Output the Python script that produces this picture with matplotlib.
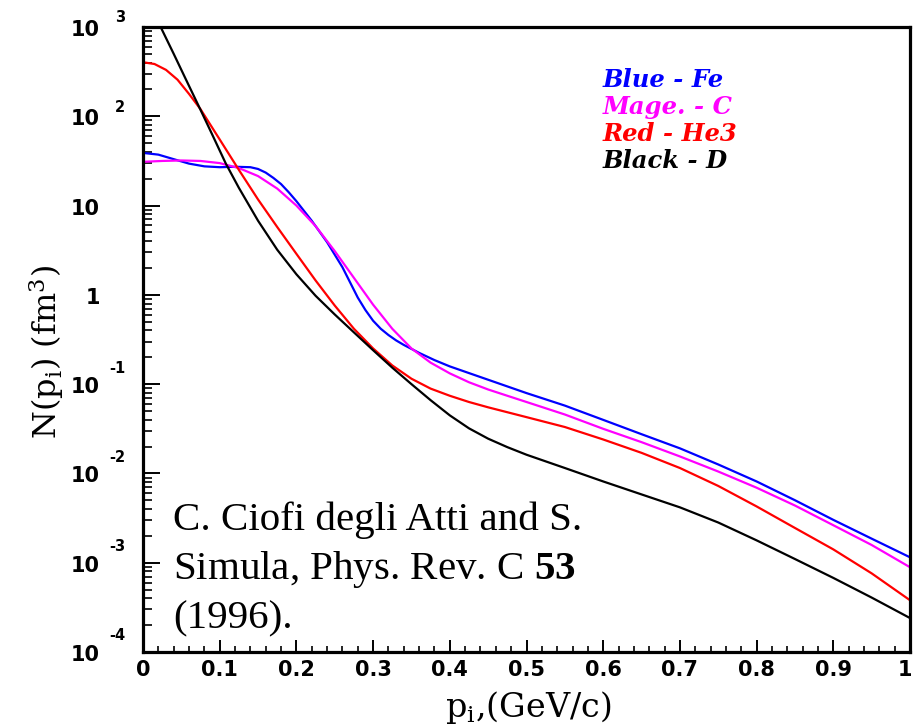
import matplotlib
matplotlib.use("Agg")
import matplotlib.pyplot as plt
from matplotlib.ticker import FixedLocator, NullFormatter, LogLocator
from matplotlib.transforms import offset_copy, ScaledTranslation

plt.rcParams['mathtext.fontset'] = 'custom'
plt.rcParams['mathtext.rm'] = 'Liberation Serif'
plt.rcParams['mathtext.bf'] = 'Liberation Serif:bold'

# momentum distributions, p in GeV/c, N(p) in fm^3
p_fe = [0, 0.02, 0.04, 0.06, 0.08, 0.1, 0.12, 0.14, 0.15, 0.16, 0.17, 0.18, 0.19,
        0.2, 0.22, 0.24, 0.26, 0.28, 0.29, 0.3, 0.31, 0.32, 0.33, 0.34, 0.36, 0.38,
        0.4, 0.45, 0.5, 0.55, 0.6, 0.65, 0.7, 0.75, 0.8, 0.85, 0.9, 0.95, 1.0]
n_fe = [38.9, 37.2, 33.1, 29.5, 27.5, 26.9, 27.2, 26.9, 25.7, 23.4, 20.4, 17.4, 14.1,
        11.2, 6.76, 3.89, 2.04, 0.933, 0.676, 0.513, 0.417, 0.355, 0.309, 0.275,
        0.224, 0.186, 0.158, 0.112, 0.0794, 0.0575, 0.0398, 0.0275, 0.0191, 0.0126,
        0.00813, 0.00501, 0.00302, 0.00186, 0.00115]

p_c = [0, 0.025, 0.05, 0.075, 0.1, 0.125, 0.15, 0.175, 0.2, 0.225, 0.25, 0.275, 0.3,
       0.325, 0.35, 0.375, 0.4, 0.425, 0.45, 0.475, 0.5, 0.55, 0.6, 0.65, 0.7, 0.75,
       0.8, 0.85, 0.9, 0.95, 1.0]
n_c = [30.9, 31.6, 32.0, 31.6, 29.9, 26.3, 21.4, 15.5, 10.0, 5.89, 3.09, 1.55, 0.776,
       0.417, 0.251, 0.174, 0.132, 0.105, 0.0871, 0.0741, 0.0631, 0.0457, 0.0316,
       0.0224, 0.0155, 0.0105, 0.00692, 0.00437, 0.00263, 0.00158, 0.00089]

p_he3 = [0, 0.015, 0.03, 0.045, 0.06, 0.075, 0.1, 0.125, 0.15, 0.175, 0.2, 0.225,
         0.25, 0.275, 0.3, 0.325, 0.35, 0.375, 0.4, 0.425, 0.45, 0.5, 0.55, 0.6,
         0.65, 0.7, 0.75, 0.8, 0.85, 0.9, 0.95, 1.0]
n_he3 = [403, 385, 331, 257, 178, 120, 55.0, 25.1, 11.7, 5.75, 2.88, 1.45, 0.759,
         0.417, 0.251, 0.162, 0.115, 0.0891, 0.0741, 0.0631, 0.0550, 0.0427, 0.0331,
         0.0240, 0.0170, 0.0115, 0.00724, 0.00427, 0.00245, 0.00141, 0.00076, 0.00038]

p_d = [0, 0.023, 0.04, 0.055, 0.074, 0.09, 0.108, 0.125, 0.15, 0.175, 0.2, 0.225,
       0.25, 0.275, 0.3, 0.325, 0.35, 0.375, 0.4, 0.425, 0.45, 0.475, 0.5, 0.55, 0.6,
       0.65, 0.7, 0.75, 0.8, 0.85, 0.9, 0.95, 1.0]
n_d = [2512, 1000, 501, 269, 123, 63.1, 29.5, 15.8, 6.76, 3.20, 1.70, 0.977, 0.603,
       0.380, 0.240, 0.153, 0.100, 0.0661, 0.0447, 0.0320, 0.0245, 0.0197, 0.0162,
       0.0115, 0.00813, 0.00582, 0.00417, 0.00282, 0.00178, 0.00110, 0.000676,
       0.000407, 0.000240]

x_ticks = [0, 0.1, 0.2, 0.3, 0.4, 0.5, 0.6, 0.7, 0.8, 0.9, 1.0]
x_tick_labels = ["0", "0.1", "0.2", "0.3", "0.4", "0.5", "0.6", "0.7", "0.8", "0.9", "1"]
y_decades = [1e3, 1e2, 1e1, 1e0, 1e-1, 1e-2, 1e-3, 1e-4]
y_mantissa = ["10", "10", "10", "1", "10", "10", "10", "10"]
y_exponent = ["3", "2", "", "", "-1", "-2", "-3", "-4"]

legend_text = ["Blue - Fe", "Mage. - C", "Red - He3", "Black - D"]
legend_colors = ["#0000ff", "#ff00ff", "#ff0000", "#000000"]

W, H = 913, 727
fig = plt.figure(figsize=(W / 100, H / 100), dpi=100)
ax = fig.add_axes([143 / W, 1 - 652 / H, (910 - 143) / W, (652 - 27) / H])

ax.plot(p_fe, n_fe, color="#0000ff", lw=1.6)
ax.plot(p_c, n_c, color="#ff00ff", lw=1.6)
ax.plot(p_he3, n_he3, color="#ff0000", lw=1.6)
ax.plot(p_d, n_d, color="#000000", lw=1.6)

ax.set_yscale("log")
ax.set_xlim(0, 1)
ax.set_ylim(1e-4, 1e3)

for s in ax.spines.values():
    s.set_linewidth(2.3)

ax.xaxis.set_major_locator(FixedLocator(x_ticks))
ax.xaxis.set_minor_locator(FixedLocator([i * 0.02 for i in range(51)]))
ax.set_xticklabels(x_tick_labels, fontfamily="DejaVu Sans", fontweight="bold", fontsize=15)
ax.yaxis.set_major_locator(FixedLocator(y_decades))
ax.yaxis.set_minor_locator(LogLocator(base=10, subs=range(2, 10), numticks=20))
ax.yaxis.set_major_formatter(NullFormatter())
ax.yaxis.set_minor_formatter(NullFormatter())

ax.tick_params(axis="x", which="major", direction="in", length=8.5, width=1.4, pad=6,
               top=False)
ax.tick_params(axis="x", which="minor", direction="in", length=4.3, width=1.2, top=False)
ax.tick_params(axis="y", which="major", direction="in", length=12, width=1.4, right=False)
ax.tick_params(axis="y", which="minor", direction="in", length=6.5, width=1.2, right=False)

# keep the last x label ("1") inside the canvas
last = ax.get_xticklabels()[-1]
last.set_transform(last.get_transform() + ScaledTranslation(-5 / 100, 0, fig.dpi_scale_trans))

# ROOT style y labels: "10" with a raised exponent
ytr = ax.get_yaxis_transform()
for val, man, ex in zip(y_decades, y_mantissa, y_exponent):
    t = offset_copy(ytr, fig=fig, x=-43, y=-3, units="dots")
    ax.text(0, val, man, transform=t, ha="right", va="center",
            fontfamily="DejaVu Sans", fontweight="bold", fontsize=15)
    if ex:
        dy = 16 if ex.startswith("-") else 9
        t2 = offset_copy(ytr, fig=fig, x=-18, y=dy, units="dots")
        ax.text(0, val, ex, transform=t2, ha="right", va="center",
                fontfamily="DejaVu Sans", fontweight="bold", fontsize=10.5)

fig.text(46 / W, 1 - 352 / H, r"N(p$\mathregular{_i}$) (fm$\mathregular{^3}$)",
         rotation=90, ha="center", va="center", fontfamily="DejaVu Serif", fontsize=23)
fig.text(528 / W, 1 - 707 / H, r"p$\mathregular{_i}$,(GeV/c)",
         ha="center", va="center", fontfamily="DejaVu Serif", fontsize=24)

for i, (txt, col) in enumerate(zip(legend_text, legend_colors)):
    fig.text(603 / W, 1 - (80 + 27 * i) / H, txt, color=col, ha="left", va="center",
             fontfamily="DejaVu Serif", fontweight="bold", fontstyle="italic", fontsize=17.5)

ref_lines = ["C. Ciofi degli Atti and S.", r"Simula, Phys. Rev. C $\mathbf{53}$", "(1996)."]
for txt, yb in zip(ref_lines, [530, 579, 628]):
    fig.text(173 / W, 1 - yb / H, txt, ha="left", va="baseline",
             fontfamily="Liberation Serif", fontsize=29.5)

fig.savefig("out.png", dpi=100)
